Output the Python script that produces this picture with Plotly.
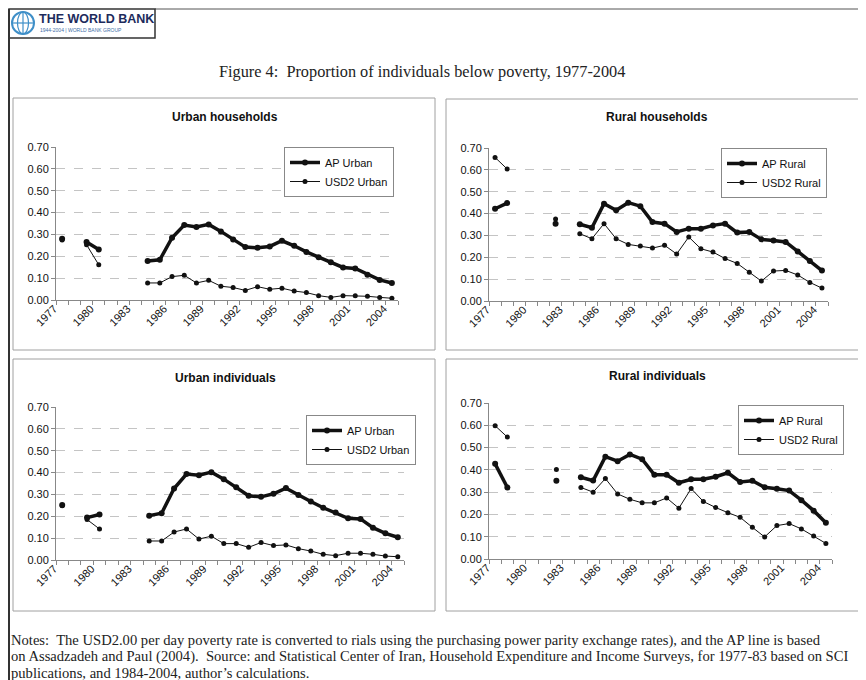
import plotly.graph_objects as go

# the page body adds an 8px margin, so the figure is laid out in page pixels shifted by OFF
OFF = 8
W, H = 866 - OFF, 680 - OFF

years = list(range(1977, 2005))
tick_years = list(range(1977, 2005, 3))
tick_labels = [str(y) for y in tick_years]

urban_hh_ap = [0.280, None, 0.265, 0.231, None, None, None,
               0.178, 0.184, 0.285, 0.343, 0.334, 0.346, 0.314, 0.277, 0.242, 0.239, 0.245,
               0.271, 0.248, 0.220, 0.196, 0.173, 0.149, 0.144, 0.116, 0.092, 0.078]
urban_hh_usd2 = [0.275, None, 0.253, 0.161, None, None, None,
                 0.078, 0.078, 0.107, 0.113, 0.078, 0.090, 0.063, 0.057, 0.044, 0.061, 0.049,
                 0.054, 0.041, 0.034, 0.020, 0.012, 0.020, 0.020, 0.017, 0.012, 0.008]

rural_hh_ap = [0.422, 0.448, None, None, None, 0.354, None,
               0.351, 0.335, 0.445, 0.415, 0.450, 0.434, 0.361, 0.354, 0.316, 0.331, 0.331,
               0.346, 0.354, 0.313, 0.316, 0.282, 0.277, 0.270, 0.227, 0.183, 0.139]
rural_hh_usd2 = [0.657, 0.604, None, None, None, 0.375, None,
                 0.308, 0.285, 0.354, 0.285, 0.259, 0.252, 0.242, 0.255, 0.215, 0.293, 0.239,
                 0.224, 0.194, 0.172, 0.131, 0.091, 0.137, 0.140, 0.119, 0.085, 0.059]

urban_ind_ap = [0.252, None, 0.194, 0.208, None, None, None,
                0.203, 0.214, 0.327, 0.393, 0.388, 0.402, 0.370, 0.333, 0.294, 0.289, 0.303,
                0.329, 0.297, 0.268, 0.239, 0.217, 0.191, 0.188, 0.148, 0.122, 0.104]
urban_ind_usd2 = [0.248, None, 0.185, 0.142, None, None, None,
                  0.087, 0.087, 0.128, 0.142, 0.096, 0.109, 0.075, 0.075, 0.058, 0.080, 0.066,
                  0.069, 0.052, 0.041, 0.026, 0.020, 0.031, 0.031, 0.026, 0.018, 0.015]

rural_ind_ap = [0.427, 0.321, None, None, None, 0.351, None,
                0.367, 0.352, 0.459, 0.439, 0.469, 0.448, 0.378, 0.378, 0.342, 0.358, 0.358,
                0.369, 0.387, 0.346, 0.351, 0.322, 0.315, 0.307, 0.264, 0.217, 0.163]
rural_ind_usd2 = [0.598, 0.547, None, None, None, 0.402, None,
                  0.321, 0.300, 0.361, 0.292, 0.268, 0.252, 0.252, 0.274, 0.228, 0.316, 0.258,
                  0.231, 0.208, 0.187, 0.142, 0.099, 0.150, 0.159, 0.135, 0.103, 0.070]

panel_titles = ["Urban households", "Rural households", "Urban individuals", "Rural individuals"]
ap_names = ["AP Urban", "AP Rural", "AP Urban", "AP Rural"]
usd2_names = ["USD2 Urban", "USD2 Rural", "USD2 Urban", "USD2 Rural"]
ap_series = [urban_hh_ap, rural_hh_ap, urban_ind_ap, rural_ind_ap]
usd2_series = [urban_hh_usd2, rural_hh_usd2, urban_ind_usd2, rural_ind_usd2]

caption = "Figure 4:  Proportion of individuals below poverty, 1977-2004"
notes = [
    "Notes:  The USD2.00 per day poverty rate is converted to rials using the purchasing power parity exchange rates), and the AP line is based",
    "on Assadzadeh and Paul (2004).  Source: and Statistical Center of Iran, Household Expenditure and Income Surveys, for 1977-83 based on SCI",
    "publications, and 1984-2004, author\u2019s calculations.",
]


def px(x):
    return (x - OFF) / W


def py(y):
    return 1 - (y - OFF) / H


SANS = "Arial, Liberation Sans, sans-serif"
SERIF = "Liberation Serif, Times New Roman, serif"
INK = "#111111"

# plot areas (page pixels): x0, x1, ytop, ybottom
plot_boxes = [(56, 398, 147, 300), (489, 828, 148, 301), (56, 404, 407, 560), (489, 832, 403, 559)]
# panel frames (page pixels)
frames = [(13, 435, 98, 350), (446, 862, 99, 350), (13, 435, 359, 611), (446, 862, 359, 611)]
# legend top-left corners
legend_pos = [(284, 147), (721, 148), (306, 415), (738, 405)]
title_pos = [(225, 117), (657, 117), (225, 378), (657, 376)]

fig = go.Figure()
layout = dict(
    width=W, height=H, margin=dict(l=0, r=0, t=0, b=0, pad=0, autoexpand=False),
    paper_bgcolor="white", plot_bgcolor="white",
    font=dict(family=SANS, size=11, color=INK),
    showlegend=True,
)
annotations = []
shapes = []

for i in range(4):
    n = "" if i == 0 else str(i + 1)
    x0, x1, yt, yb = plot_boxes[i]
    leg = "legend" + n
    fig.add_trace(go.Scatter(
        x=years, y=ap_series[i], name=ap_names[i], mode="lines+markers",
        line=dict(color=INK, width=3.5), marker=dict(size=6, color=INK),
        xaxis="x" + n, yaxis="y" + n, legend=leg,
    ))
    fig.add_trace(go.Scatter(
        x=years, y=usd2_series[i], name=usd2_names[i], mode="lines+markers",
        line=dict(color=INK, width=1), marker=dict(size=5, color=INK),
        xaxis="x" + n, yaxis="y" + n, legend=leg,
    ))
    layout["xaxis" + n] = dict(
        domain=[px(x0), px(x1)], anchor="y" + n, range=[1976.5, 2004.5], automargin=False,
        tickvals=tick_years, ticktext=tick_labels, tickangle=-45,
        ticklabelshift=-8, ticklabelstandoff=-3,
        ticks="", showline=True, linecolor="#888", linewidth=1,
        showgrid=False, zeroline=False, tickfont=dict(size=11, color=INK),
        minor=dict(ticks="outside", tick0=1976.5, dtick=1, ticklen=4, tickcolor="#888", showgrid=False),
    )
    layout["yaxis" + n] = dict(
        domain=[py(yb), py(yt)], anchor="x" + n, range=[0, 0.7001], automargin=False,
        dtick=0.1, tickformat=".2f", showgrid=True, griddash="dash", gridcolor="#c4c4c4",
        showline=True, linecolor="#888", ticks="outside", ticklen=4, tickcolor="#888",
        zeroline=False, tickfont=dict(size=11, color=INK),
    )
    lx, ly = legend_pos[i]
    layout[leg] = dict(
        x=px(lx), y=py(ly), xanchor="left", yanchor="top", xref="paper", yref="paper",
        bordercolor="#888", borderwidth=1, bgcolor="white",
        font=dict(family=SANS, size=11, color=INK), itemwidth=30, tracegroupgap=0,
    )
    tx, ty = title_pos[i]
    annotations.append(dict(
        text="<b>%s</b>" % panel_titles[i], x=px(tx), y=py(ty), xref="paper", yref="paper",
        showarrow=False, xanchor="center", yanchor="middle", font=dict(family=SANS, size=12, color=INK),
    ))
    fx0, fx1, fy0, fy1 = frames[i]
    shapes.append(dict(type="rect", xref="paper", yref="paper", x0=px(fx0), x1=px(fx1),
                       y0=py(fy1), y1=py(fy0), line=dict(color="#a0a0a0", width=1)))

# page frame and World Bank logo box
shapes.append(dict(type="line", xref="paper", yref="paper", x0=px(9), x1=px(9), y0=0, y1=py(9),
                   line=dict(color="#333", width=2)))
shapes.append(dict(type="line", xref="paper", yref="paper", x0=px(155), x1=1, y0=py(9), y1=py(9),
                   line=dict(color="#555", width=1)))
shapes.append(dict(type="rect", xref="paper", yref="paper", x0=px(9), x1=px(155), y0=py(38), y1=py(9),
                   line=dict(color="#333", width=1.5)))
# globe
shapes.append(dict(type="circle", xref="paper", yref="paper", x0=px(12), x1=px(34), y0=py(34), y1=py(12),
                   line=dict(color="#3f8fc8", width=2)))
shapes.append(dict(type="circle", xref="paper", yref="paper", x0=px(17.5), x1=px(28.5), y0=py(34), y1=py(12),
                   line=dict(color="#3f8fc8", width=1.2)))
shapes.append(dict(type="line", xref="paper", yref="paper", x0=px(12), x1=px(34), y0=py(23), y1=py(23),
                   line=dict(color="#3f8fc8", width=1.2)))
shapes.append(dict(type="line", xref="paper", yref="paper", x0=px(23), x1=px(23), y0=py(34), y1=py(12),
                   line=dict(color="#3f8fc8", width=1.2)))
annotations.append(dict(text="<b>THE WORLD BANK</b>", x=px(37), y=py(19), xref="paper", yref="paper",
                        showarrow=False, xanchor="left", yanchor="middle",
                        font=dict(family=SANS, size=12.5, color="#1d2b5c")))
annotations.append(dict(text="1944-2004 | WORLD BANK GROUP", x=px(38), y=py(30), xref="paper", yref="paper",
                        showarrow=False, xanchor="left", yanchor="middle",
                        font=dict(family=SANS, size=5, color="#3f6fa8")))

annotations.append(dict(text=caption, x=px(422), y=py(71), xref="paper", yref="paper", showarrow=False,
                        xanchor="center", yanchor="middle", font=dict(family=SERIF, size=16.3, color="#222")))
for k, line in enumerate(notes):
    annotations.append(dict(text=line, x=px(9), y=py(640 + 16.5 * k), xref="paper", yref="paper",
                            showarrow=False, xanchor="left", yanchor="middle",
                            font=dict(family=SERIF, size=14.6, color="#222")))

layout["annotations"] = annotations
layout["shapes"] = shapes
fig.update_layout(**layout)

fig.write_html("out.html")
